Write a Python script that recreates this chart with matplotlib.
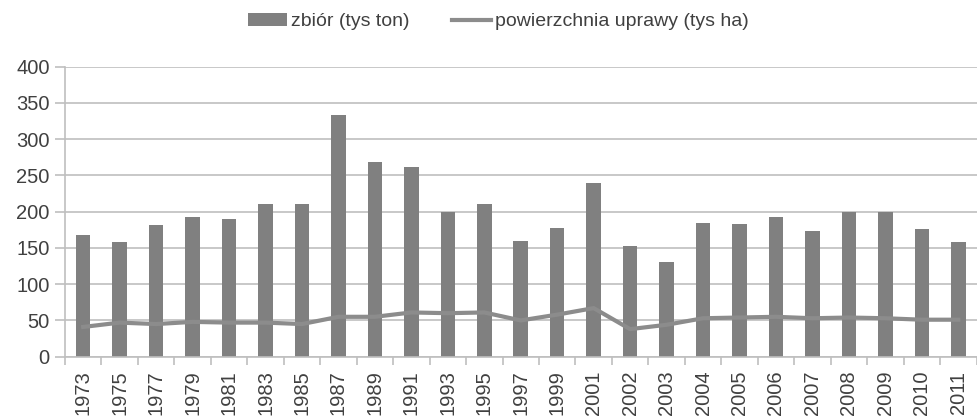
import numpy as np
import matplotlib
matplotlib.use("Agg")
from matplotlib import pyplot as plt

years = ["1973", "1975", "1977", "1979", "1981", "1983", "1985", "1987", "1989",
         "1991", "1993", "1995", "1997", "1999", "2001", "2002", "2003", "2004",
         "2005", "2006", "2007", "2008", "2009", "2010", "2011"]
zbior = [168, 158, 182, 192, 190, 211, 211, 334, 269, 261, 199, 211, 160, 177,
         240, 152, 130, 184, 183, 193, 174, 199, 199, 176, 158]
powierzchnia = [41, 47, 45, 48, 47, 47, 45, 55, 55, 61, 60, 61, 50, 58, 67, 38,
                44, 53, 54, 55, 53, 54, 53, 51, 51]

plt.rcParams['font.family'] = ['Liberation Sans', 'DejaVu Sans']

fig = plt.figure(figsize=(9.77, 4.16), dpi=100)
ax = fig.add_axes([0.0665, 0.1426, 0.933, 0.6971])

x = np.arange(len(years))
grid_col = '#bfbfbf'
bars = ax.bar(x, zbior, width=0.4, color='#808080', label='zbiór (tys ton)', zorder=2)
line, = ax.plot(x, powierzchnia, color='#8c8c8c', linewidth=3,
                label='powierzchnia uprawy (tys ha)', zorder=3)

ax.set_xlim(-0.5, len(years) - 0.5)
ax.set_ylim(0, 400)
ax.set_yticks(range(0, 401, 50))
ax.yaxis.grid(True, color=grid_col, linewidth=1.2, zorder=0)
ax.set_axisbelow(True)

ax.set_xticks(x)
ax.set_xticklabels(years, rotation=90, fontsize=14.5, color='#404040')
ax.set_xticks(np.arange(-0.5, len(years), 1), minor=True)
ax.tick_params(axis='x', which='major', length=0, pad=10)
ax.tick_params(axis='x', which='minor', length=6, color=grid_col, width=1.2)
ax.tick_params(axis='y', length=7, color=grid_col, width=1.2, labelsize=14.5,
               labelcolor='#404040', pad=4)

for s in ['top', 'right']:
    ax.spines[s].set_visible(False)
for s in ['left', 'bottom']:
    ax.spines[s].set_color(grid_col)
    ax.spines[s].set_linewidth(1.2)

fig.legend(handles=[bars, line], loc='upper center', bbox_to_anchor=(0.51, 1.01),
           ncol=2, frameon=False, fontsize=14, handlelength=2.0, handleheight=0.6,
           columnspacing=2.2, handletextpad=0.2, labelcolor='#404040')

fig.savefig('out.png', dpi=100)
